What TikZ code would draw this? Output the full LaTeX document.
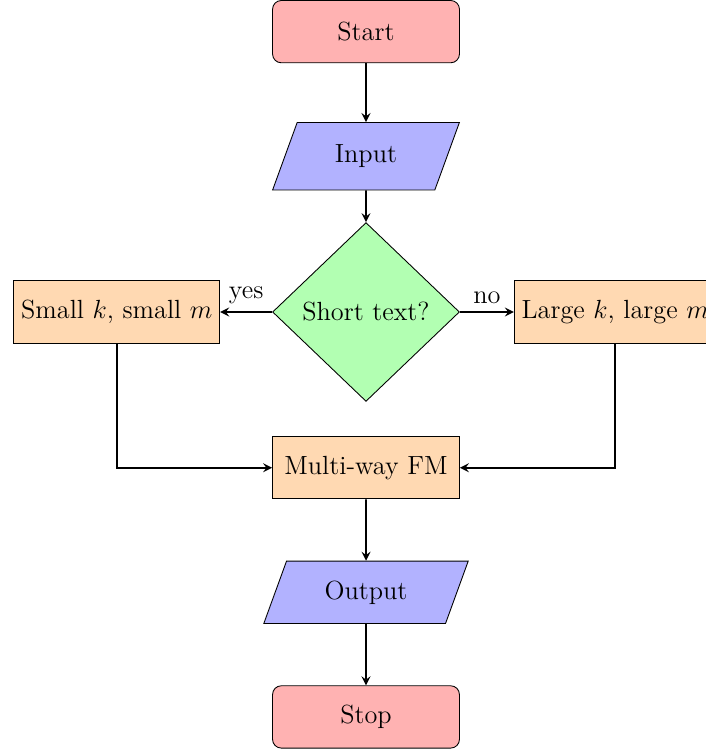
\documentclass[tikz,border=0pt]{standalone}
\usetikzlibrary{shapes.geometric,arrows}

\tikzset{
  startstop/.style={rectangle, rounded corners, minimum width=3cm, minimum height=1cm,
    text centered, draw=black, fill=red!30},
  io/.style={trapezium, trapezium left angle=70, trapezium right angle=110,
    minimum width=3cm, minimum height=1cm, text centered, draw=black, fill=blue!30},
  process/.style={rectangle, minimum width=3cm, minimum height=1cm,
    text centered, draw=black, fill=orange!30},
  decision/.style={diamond, minimum width=3cm, minimum height=2.87cm,
    text centered, draw=black, fill=green!30},
  arrow/.style={thick, ->, >=stealth},
  every node/.style={font=\large}
}

\begin{document}
\begin{tikzpicture}
  \useasboundingbox (-5.875,-7.079) rectangle (5.457,5.008);

  \node[startstop] (start) at (0,4.5) {Start};
  \node[io] (in1) at (0,2.5) {Input};
  \node[decision] (dec1) at (0,0) {Short text?};
  \node[process] (pro2a) at (-4,0) {Small $k$, small $m$};
  \node[process] (pro2b) at (4,0) {Large $k$, large $m$};
  \node[process] (pro3) at (0,-2.5) {Multi-way FM};
  \node[io] (out1) at (0,-4.5) {Output};
  \node[startstop] (stop) at (0,-6.5) {Stop};

  \draw[arrow] (start) -- (in1);
  \draw[arrow] (in1) -- (dec1);
  \draw[arrow] (dec1) -- node[anchor=south] {yes} (pro2a);
  \draw[arrow] (dec1) -- node[anchor=south] {no} (pro2b);
  \draw[arrow] (pro2a) |- (pro3);
  \draw[arrow] (pro2b) |- (pro3);
  \draw[arrow] (pro3) -- (out1);
  \draw[arrow] (out1) -- (stop);
\end{tikzpicture}
\end{document}
